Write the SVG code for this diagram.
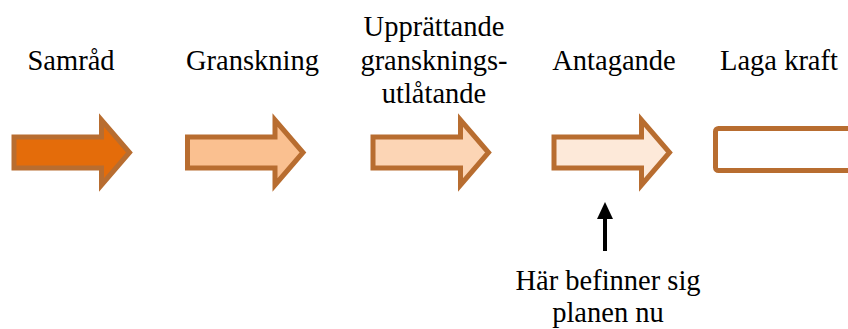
<svg xmlns="http://www.w3.org/2000/svg" xmlns:xlink="http://www.w3.org/1999/xlink" width="848" height="329" viewBox="0 0 848 329">
  <style>
    .lbl { font-family: "Liberation Serif", "Times New Roman", serif; font-size: 28.5px; fill: #000; text-anchor: middle; }
    .step { stroke: #B86D30; stroke-width: 5; stroke-linejoin: miter; stroke-miterlimit: 10; }
    .s1 { fill: #E46C0A; }
    .s2 { fill: #FAC090; }
    .s3 { fill: #FCD5B5; }
    .s4 { fill: #FDE9D9; }
  </style>
  <defs>
    <!-- block arrow, origin at left end of the shaft's centre line -->
    <path id="blockArrow" d="M0,-15.5 H87.5 V-32.5 L115.5,0 L87.5,32.5 V15.5 H0 Z"/>
    <!-- solid triangular head; drawn pointing along +x so orient="auto" follows the line -->
    <marker id="solidHead" viewBox="0 0 17 16" refX="1" refY="8" markerWidth="17" markerHeight="16" markerUnits="userSpaceOnUse" orient="auto">
      <path d="M0,0 L17,8 L0,16 Z" fill="#000"/>
    </marker>
  </defs>

  <g id="samrad">
    <use xlink:href="#blockArrow" class="step s1" transform="translate(14,152.5)"/>
    <text class="lbl" x="71" y="69.5">Samråd</text>
  </g>

  <g id="granskning">
    <use xlink:href="#blockArrow" class="step s2" transform="translate(187.5,152.5)"/>
    <text class="lbl" x="252.5" y="69.5">Granskning</text>
  </g>

  <g id="utlatande">
    <use xlink:href="#blockArrow" class="step s3" transform="translate(373,152.5)"/>
    <text class="lbl" x="434" y="36">Upprättande</text>
    <text class="lbl" x="434" y="69.5">gransknings-</text>
    <text class="lbl" x="434" y="103">utlåtande</text>
  </g>

  <g id="antagande">
    <use xlink:href="#blockArrow" class="step s4" transform="translate(554,152.5)"/>
    <text class="lbl" x="614" y="69.5">Antagande</text>
  </g>

  <g id="laga-kraft">
    <rect class="step" x="715.5" y="128.5" width="150" height="42" rx="3" fill="#FFFFFF" stroke-linejoin="round"/>
    <text class="lbl" x="779" y="69.5">Laga kraft</text>
  </g>

  <g id="status">
    <text class="lbl" x="608" y="289.5">Här befinner sig</text>
    <text class="lbl" x="608" y="322">planen nu</text>
  </g>

  <g id="connectors">
    <line x1="605" y1="251" x2="605" y2="218" stroke="#000" stroke-width="4" marker-end="url(#solidHead)"/>
  </g>
</svg>
